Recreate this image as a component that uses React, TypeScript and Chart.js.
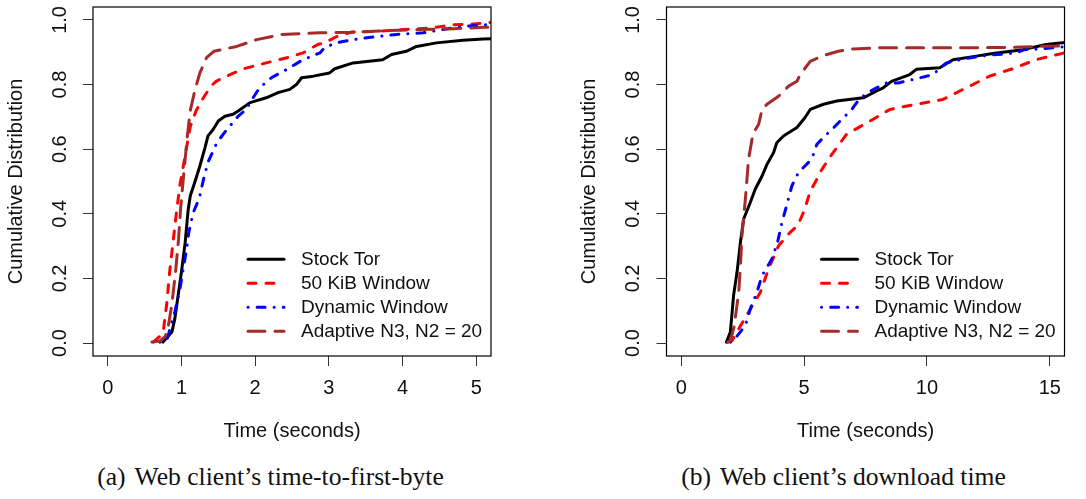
import { useEffect, useRef } from "react";
import { Chart, registerables } from "chart.js";

Chart.register(...registerables);

// Series names, shared by both panels
const seriesLabels = ["Stock Tor", "50 KiB Window", "Dynamic Window", "Adaptive N3, N2 = 20"];

// Tick values
const ttfbTicks = [0, 1, 2, 3, 4, 5];
const downloadTicks = [0, 5, 10, 15];
const cdfTicks = [0, 0.2, 0.4, 0.6, 0.8, 1.0];

// (a) time-to-first-byte, seconds / cumulative fraction
const ttfbStockTime = [0.75, 0.87, 0.91, 1.0, 1.05, 1.09, 1.12, 1.18, 1.25, 1.32, 1.36, 1.43, 1.5, 1.59, 1.7, 1.77, 1.93, 2.15, 2.31, 2.47, 2.56, 2.63, 2.79, 3.01, 3.08, 3.33, 3.73, 3.85, 4.05, 4.19, 4.46, 4.82, 5.09, 5.3];
const ttfbStockCdf = [0.003, 0.034, 0.075, 0.22, 0.31, 0.41, 0.456, 0.497, 0.548, 0.605, 0.641, 0.661, 0.687, 0.702, 0.708, 0.718, 0.744, 0.759, 0.775, 0.785, 0.8, 0.821, 0.826, 0.836, 0.849, 0.867, 0.877, 0.893, 0.903, 0.918, 0.929, 0.937, 0.941, 0.942];

const ttfbWindowTime = [0.62, 0.75, 0.8, 0.84, 0.88, 0.93, 0.98, 1.05, 1.12, 1.2, 1.3, 1.4, 1.47, 1.61, 1.86, 2.15, 2.43, 2.65, 2.85, 2.95, 3.1, 3.3, 3.67, 4.0, 4.4, 4.68, 5.0, 5.3];
const ttfbWindowCdf = [0.003, 0.03, 0.12, 0.22, 0.3, 0.4, 0.49, 0.58, 0.67, 0.72, 0.76, 0.795, 0.81, 0.826, 0.85, 0.867, 0.883, 0.898, 0.924, 0.93, 0.948, 0.962, 0.965, 0.97, 0.975, 0.985, 0.988, 0.995];

const ttfbDynamicTime = [0.71, 0.8, 0.91, 0.98, 1.02, 1.07, 1.1, 1.16, 1.24, 1.3, 1.36, 1.48, 1.6, 1.77, 1.88, 1.93, 2.06, 2.22, 2.43, 2.65, 2.88, 2.94, 3.1, 3.33, 3.6, 3.92, 4.28, 4.59, 4.82, 5.14, 5.3];
const ttfbDynamicCdf = [0.003, 0.008, 0.096, 0.168, 0.224, 0.29, 0.343, 0.404, 0.447, 0.507, 0.56, 0.62, 0.656, 0.702, 0.723, 0.744, 0.79, 0.821, 0.847, 0.877, 0.898, 0.914, 0.929, 0.939, 0.947, 0.955, 0.96, 0.972, 0.98, 0.985, 0.99];

const ttfbAdaptiveTime = [0.6, 0.7, 0.78, 0.82, 0.87, 0.92, 0.96, 0.99, 1.03, 1.08, 1.12, 1.18, 1.25, 1.34, 1.44, 1.75, 2.02, 2.36, 2.88, 3.3, 3.8, 4.2, 4.7, 5.1, 5.3];
const ttfbAdaptiveCdf = [0.003, 0.006, 0.02, 0.05, 0.12, 0.22, 0.32, 0.42, 0.52, 0.64, 0.72, 0.78, 0.836, 0.883, 0.903, 0.918, 0.939, 0.955, 0.96, 0.962, 0.967, 0.97, 0.973, 0.977, 0.977];

// (b) download time, seconds / cumulative fraction
const dlStockTime = [1.84, 2.0, 2.13, 2.27, 2.41, 2.54, 2.81, 3.01, 3.29, 3.49, 3.76, 3.89, 4.16, 4.71, 5.04, 5.25, 5.79, 6.33, 7.41, 7.95, 8.22, 8.56, 9.3, 9.57, 10.52, 11.06, 12.01, 12.68, 13.9, 14.85, 15.7];
const dlStockCdf = [0.003, 0.034, 0.147, 0.219, 0.312, 0.384, 0.435, 0.476, 0.517, 0.553, 0.59, 0.62, 0.641, 0.667, 0.698, 0.723, 0.739, 0.749, 0.759, 0.78, 0.79, 0.81, 0.831, 0.847, 0.852, 0.877, 0.888, 0.896, 0.908, 0.924, 0.931];

const dlWindowTime = [1.9, 2.07, 2.54, 3.22, 3.55, 3.96, 4.4, 4.75, 4.95, 5.11, 5.25, 5.52, 5.65, 5.99, 6.19, 6.73, 7.68, 8.49, 9.57, 10.65, 11.6, 12.55, 13.49, 14.44, 15.7];
const dlWindowCdf = [0.003, 0.008, 0.07, 0.157, 0.229, 0.301, 0.34, 0.365, 0.4, 0.435, 0.47, 0.507, 0.528, 0.569, 0.59, 0.646, 0.687, 0.723, 0.739, 0.754, 0.79, 0.826, 0.849, 0.877, 0.9];

const dlDynamicTime = [2.0, 2.13, 2.61, 2.81, 3.08, 3.29, 3.69, 3.92, 4.1, 4.27, 4.5, 4.77, 5.18, 5.38, 5.52, 5.92, 6.13, 6.53, 6.94, 7.14, 7.48, 7.95, 8.36, 8.83, 9.57, 10.25, 10.79, 11.53, 12.41, 13.63, 13.97, 14.58, 15.7];
const dlDynamicCdf = [0.003, 0.008, 0.054, 0.106, 0.157, 0.209, 0.26, 0.312, 0.373, 0.42, 0.486, 0.528, 0.559, 0.584, 0.615, 0.646, 0.661, 0.692, 0.723, 0.744, 0.77, 0.79, 0.805, 0.805, 0.818, 0.831, 0.867, 0.88, 0.89, 0.898, 0.908, 0.91, 0.918];

const dlAdaptiveTime = [1.9, 2.0, 2.15, 2.34, 2.41, 2.47, 2.61, 2.74, 2.88, 2.95, 3.15, 3.29, 3.49, 3.96, 4.37, 4.71, 4.84, 5.25, 5.79, 6.39, 7.0, 8.09, 10.0, 12.0, 13.5, 14.5, 15.7];
const dlAdaptiveCdf = [0.003, 0.008, 0.05, 0.157, 0.24, 0.332, 0.445, 0.569, 0.63, 0.651, 0.677, 0.723, 0.739, 0.764, 0.795, 0.81, 0.831, 0.872, 0.89, 0.903, 0.91, 0.914, 0.914, 0.914, 0.915, 0.918, 0.92];

// Line styles per series
const seriesColors = ["#000000", "#FF0000", "#0000FF", "#A52A2A"];
const seriesDashes: number[][] = [[], [8, 10], [0.1, 9, 8, 9], [17, 10]];

const SANS = '"Liberation Sans", Arial, Helvetica, sans-serif';

// Draws the box, rotated y labels, axis titles and the in-plot legend
const rStylePlugin = {
  id: "rStyle",
  afterDraw(chart: any) {
    const { ctx, chartArea: a, scales } = chart;
    const xs = scales.x;
    const ys = scales.y;
    ctx.save();
    ctx.strokeStyle = "#000";
    ctx.lineWidth = 1.2;
    ctx.setLineDash([]);
    ctx.strokeRect(a.left, a.top, a.right - a.left, a.bottom - a.top);

    ctx.fillStyle = "#111";
    ctx.font = `20px ${SANS}`;
    ctx.textAlign = "center";
    ctx.textBaseline = "middle";
    xs.ticks.forEach((t: any) => {
      ctx.fillText(String(t.value), xs.getPixelForValue(t.value), a.bottom + 32);
    });
    ys.ticks.forEach((t: any) => {
      ctx.save();
      ctx.translate(a.left - 33, ys.getPixelForValue(t.value));
      ctx.rotate(-Math.PI / 2);
      ctx.fillText(Number(t.value).toFixed(1), 0, 0);
      ctx.restore();
    });
    ctx.fillText("Time (seconds)", (a.left + a.right) / 2, a.bottom + 75);
    ctx.save();
    ctx.translate(a.left - 77, (a.top + a.bottom) / 2);
    ctx.rotate(-Math.PI / 2);
    ctx.fillText("Cumulative Distribution", 0, 0);
    ctx.restore();

    // legend
    ctx.font = `19px ${SANS}`;
    ctx.textAlign = "left";
    chart.data.datasets.forEach((ds: any, i: number) => {
      const yy = a.bottom - 96.7 + 24 * i;
      ctx.beginPath();
      ctx.strokeStyle = ds.borderColor;
      ctx.lineWidth = 3;
      ctx.lineCap = "round";
      ctx.setLineDash(ds.borderDash);
      ctx.moveTo(a.right - 243, yy);
      ctx.lineTo(a.right - 207, yy);
      ctx.stroke();
      ctx.setLineDash([]);
      ctx.fillStyle = "#111";
      ctx.fillText(ds.label, a.right - 190, yy);
    });
    ctx.restore();
  },
};

type PanelProps = {
  left: number;
  times: number[][];
  cdfs: number[][];
  xMin: number;
  xMax: number;
  xTicks: number[];
  axisWidth: number;
  padRight: number;
};

function CdfPanel({ left, times, cdfs, xMin, xMax, xTicks, axisWidth, padRight }: PanelProps) {
  const ref = useRef<HTMLCanvasElement | null>(null);
  useEffect(() => {
    if (!ref.current) return;
    const grid = {
      drawOnChartArea: false,
      drawTicks: true,
      tickLength: 10,
      color: "#333",
      lineWidth: 1,
    };
    const chart = new Chart(ref.current, {
      type: "line",
      data: {
        datasets: seriesLabels.map((label, i) => ({
          label,
          data: times[i].map((t, j) => ({ x: t, y: cdfs[i][j] })),
          borderColor: seriesColors[i],
          backgroundColor: seriesColors[i],
          borderWidth: 3,
          borderDash: seriesDashes[i],
          borderCapStyle: "round",
          borderJoinStyle: "round",
          pointRadius: 0,
          tension: 0,
          fill: false,
          order: 4 - i,
        })),
      },
      options: {
        responsive: false,
        animation: false,
        events: [],
        layout: { padding: { top: 7, right: padRight, left: 0, bottom: 0 } },
        plugins: { legend: { display: false }, tooltip: { enabled: false } },
        scales: {
          x: {
            type: "linear",
            min: xMin,
            max: xMax,
            afterBuildTicks: (s: any) => {
              s.ticks = xTicks.map((v) => ({ value: v }));
            },
            afterFit: (s: any) => {
              s.height = 104;
            },
            ticks: { display: false },
            grid,
            border: { display: false },
          },
          y: {
            type: "linear",
            min: -0.04,
            max: 1.04,
            afterBuildTicks: (s: any) => {
              s.ticks = cdfTicks.map((v) => ({ value: v }));
            },
            afterFit: (s: any) => {
              s.width = axisWidth;
            },
            ticks: { display: false },
            grid,
            border: { display: false },
          },
        },
      } as any,
      plugins: [rStylePlugin],
    });
    return () => chart.destroy();
  }, []);
  return (
    <canvas
      ref={ref}
      width={543}
      height={460}
      style={{ position: "absolute", left, top: 0, width: 543, height: 460, display: "block" }}
    />
  );
}

const captionStyle = {
  position: "absolute" as const,
  top: 464,
  width: 440,
  textAlign: "center" as const,
  fontFamily: '"Liberation Serif", "Times New Roman", serif',
  fontSize: 25.6,
  lineHeight: "25px",
  color: "#111",
  whiteSpace: "nowrap" as const,
};

export default function App() {
  return (
    <div style={{ position: "absolute", left: 0, top: 0, width: 1086, height: 499, background: "#fff", overflow: "hidden" }}>
      <CdfPanel
        left={0}
        times={[ttfbStockTime, ttfbWindowTime, ttfbDynamicTime, ttfbAdaptiveTime]}
        cdfs={[ttfbStockCdf, ttfbWindowCdf, ttfbDynamicCdf, ttfbAdaptiveCdf]}
        xMin={-0.2}
        xMax={5.2}
        xTicks={ttfbTicks}
        axisWidth={93}
        padRight={52}
      />
      <CdfPanel
        left={543}
        times={[dlStockTime, dlWindowTime, dlDynamicTime, dlAdaptiveTime]}
        cdfs={[dlStockCdf, dlWindowCdf, dlDynamicCdf, dlAdaptiveCdf]}
        xMin={-0.6}
        xMax={15.6}
        xTicks={downloadTicks}
        axisWidth={123.5}
        padRight={21.5}
      />
      <div style={{ ...captionStyle, left: 270.5 - 220 }}>
        (a)<span style={{ marginLeft: 9 }}>Web client’s time-to-first-byte</span>
      </div>
      <div style={{ ...captionStyle, left: 843.5 - 220 }}>
        (b)<span style={{ marginLeft: 9 }}>Web client’s download time</span>
      </div>
    </div>
  );
}
